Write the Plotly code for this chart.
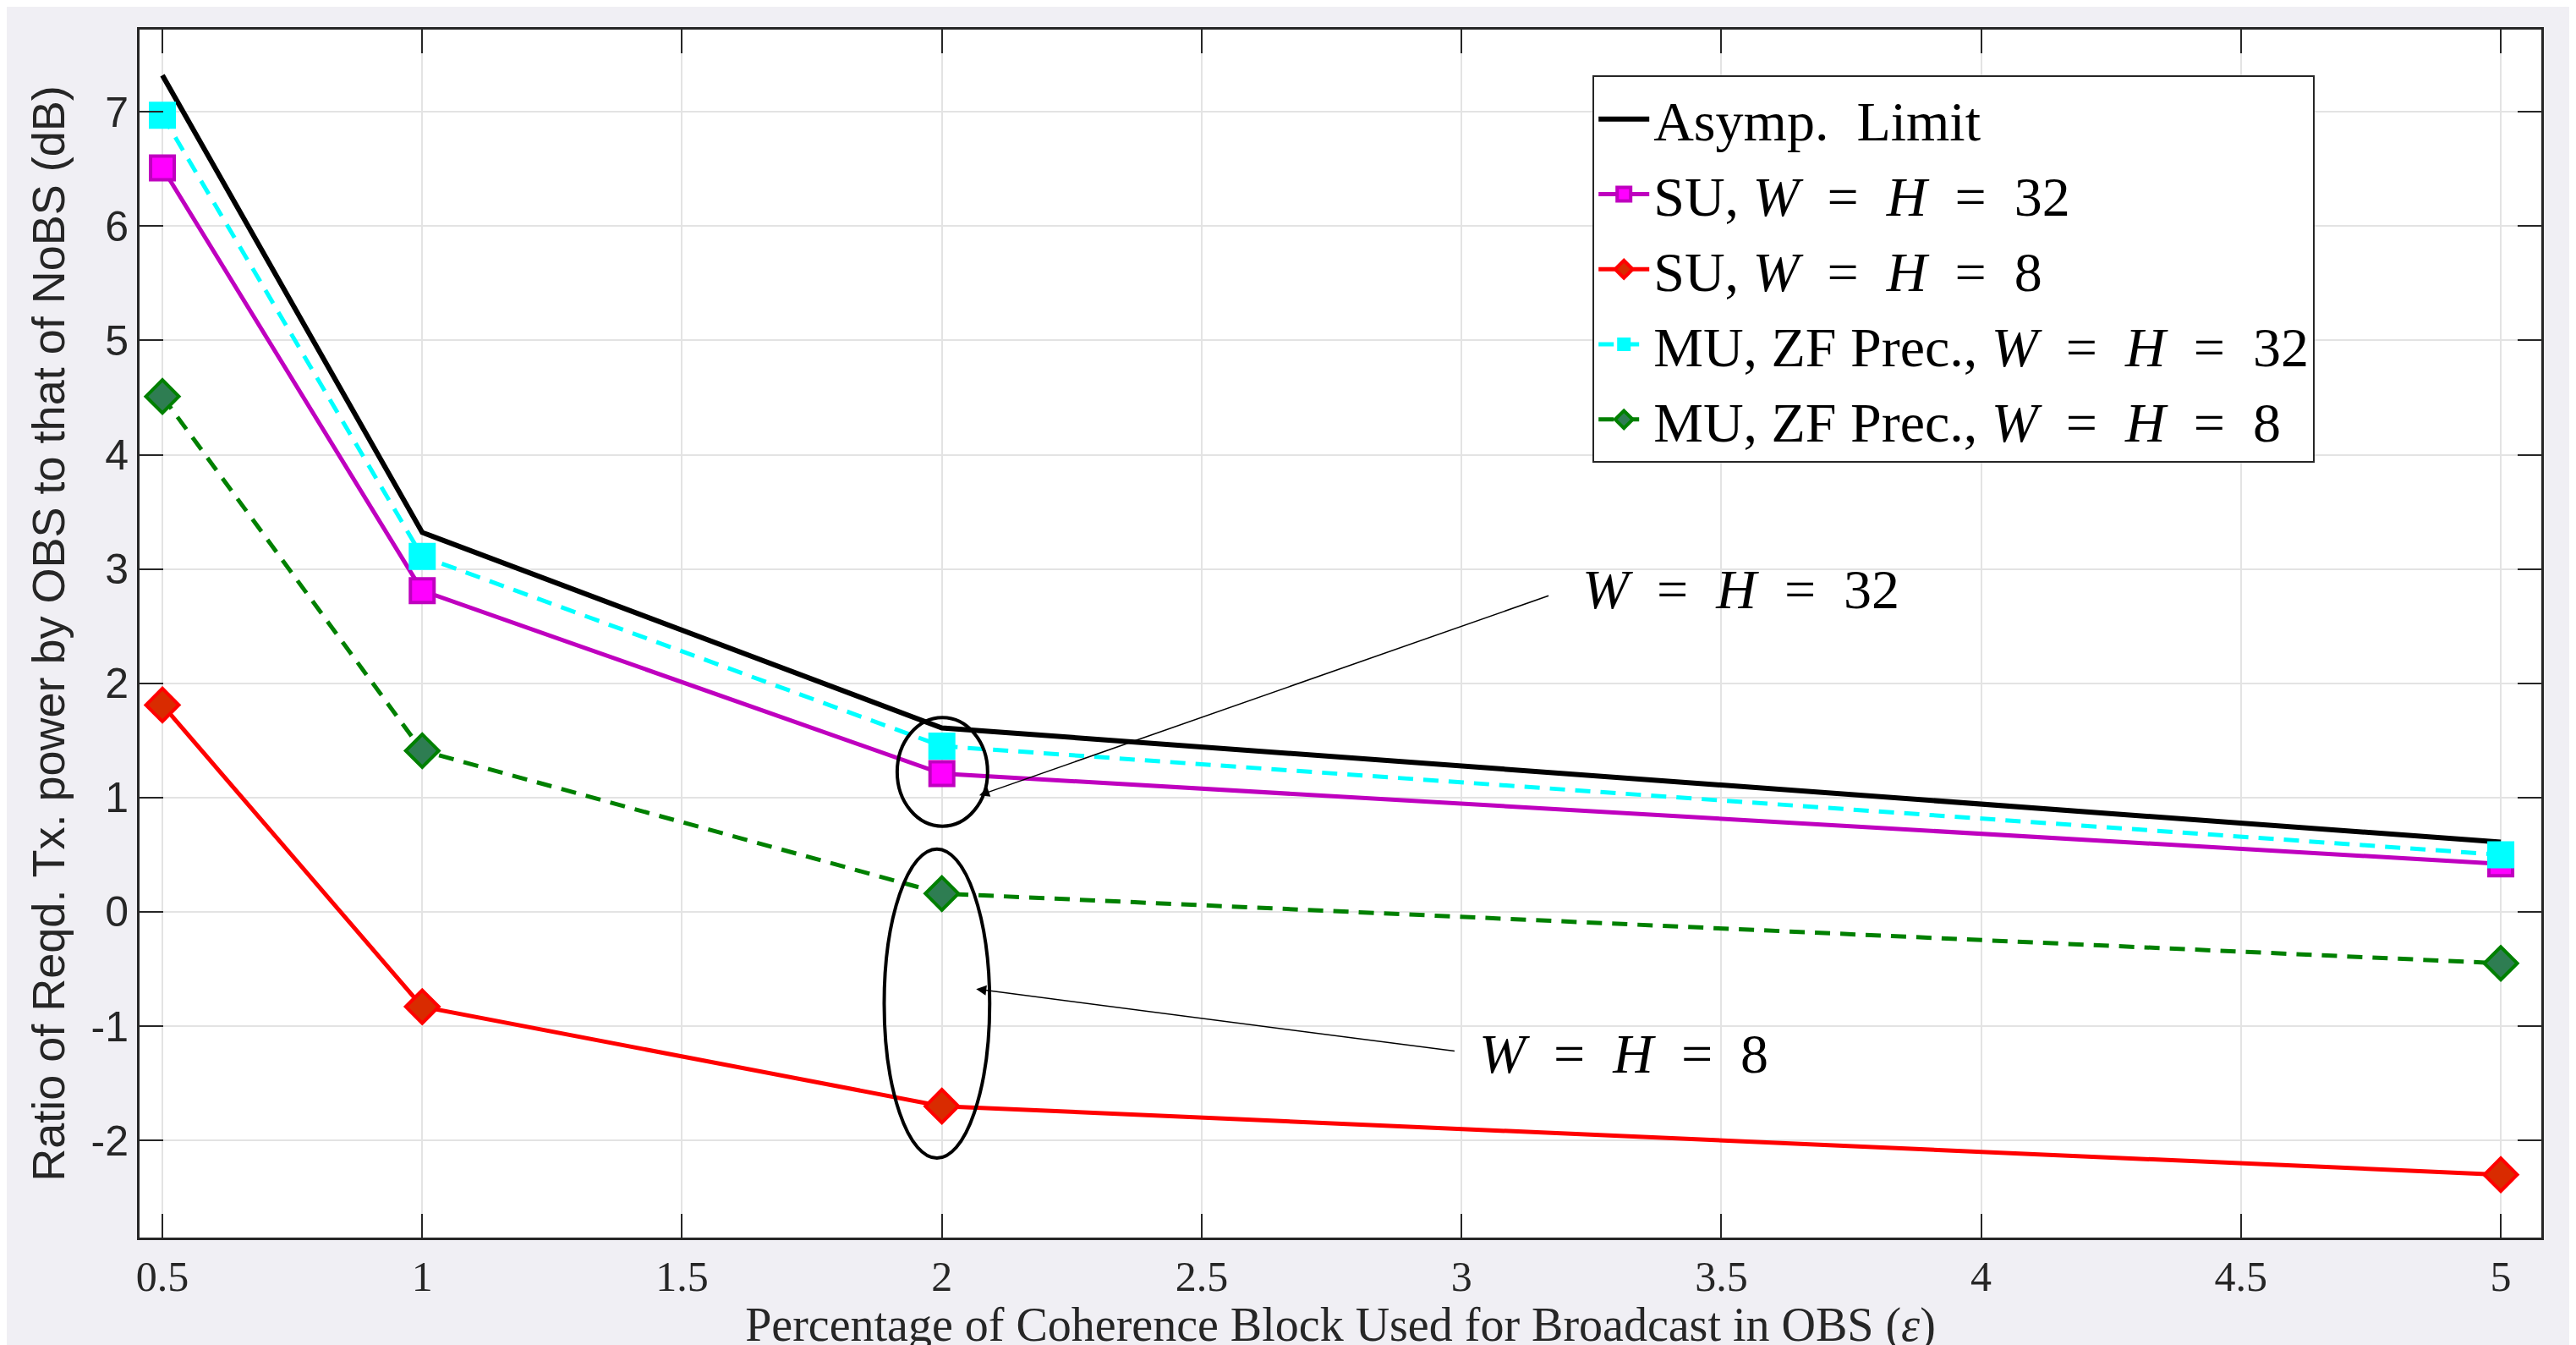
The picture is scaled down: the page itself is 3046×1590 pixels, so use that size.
import plotly.graph_objects as go

# ---------------- data ----------------
eps = [0.5, 1, 2, 5]
asymp_limit = [7.32, 3.32, 1.61, 0.61]
su_32 = [6.51, 2.81, 1.21, 0.42]
su_8 = [1.81, -0.83, -1.70, -2.30]
mu_32 = [6.97, 3.11, 1.45, 0.50]
mu_8 = [4.51, 1.41, 0.16, -0.45]

x_ticks = [0.5, 1, 1.5, 2, 2.5, 3, 3.5, 4, 4.5, 5]
y_ticks = [-2, -1, 0, 1, 2, 3, 4, 5, 6, 7]
y_ticktext = ["-2", "-1", "0", "1", "2", "3", "4", "5", "6", "7"]

# annotation geometry (data coordinates)
ell32 = dict(x0=1.914, x1=2.088, y0=0.75, y1=1.70)
ell8 = dict(x0=1.889, x1=2.092, y0=-2.155, y1=0.55)
arr32 = dict(tail=(3.17, 2.77), head=(2.072, 1.02), text=(3.23, 2.82))
arr8 = dict(tail=(2.989, -1.22), head=(2.066, -0.675), text=(3.03, -1.24))

SERIF = "Liberation Serif"
SANS = "Liberation Sans"

fig = go.Figure()

fig.add_trace(go.Scatter(
    x=eps, y=asymp_limit, mode="lines", name="Asymp.  Limit",
    line=dict(color="black", width=6)))

fig.add_trace(go.Scatter(
    x=eps, y=su_32, mode="lines+markers", name="SU, <i>W</i>  =  <i>H</i>  =  32",
    line=dict(color="#BF00BF", width=5),
    marker=dict(symbol="square", size=28, color="#FF00FF",
                line=dict(color="#BF00BF", width=4))))

fig.add_trace(go.Scatter(
    x=eps, y=su_8, mode="lines+markers", name="SU, <i>W</i>  =  <i>H</i>  =  8",
    line=dict(color="#FF0000", width=5),
    marker=dict(symbol="diamond", size=30, color="#D92B00",
                line=dict(color="#FF0000", width=4))))

fig.add_trace(go.Scatter(
    x=eps, y=mu_32, mode="lines+markers",
    name="MU, ZF Prec., <i>W</i>  =  <i>H</i>  =  32",
    line=dict(color="#00FFFF", width=5, dash="18px,12px"),
    marker=dict(symbol="square", size=32, color="#00FFFF",
                line=dict(color="#00FFFF", width=0))))

fig.add_trace(go.Scatter(
    x=eps, y=mu_8, mode="lines+markers",
    name="MU, ZF Prec., <i>W</i>  =  <i>H</i>  =  8",
    line=dict(color="#008000", width=5, dash="18px,12px"),
    marker=dict(symbol="diamond", size=30, color="#2E7D52",
                line=dict(color="#008000", width=4))))

# ellipses
for e in (ell32, ell8):
    fig.add_shape(type="circle", xref="x", yref="y",
                  x0=e["x0"], x1=e["x1"], y0=e["y0"], y1=e["y1"],
                  line=dict(color="black", width=4))

# arrows + labels
for a, label in ((arr32, "<i>W</i>  =  <i>H</i>  =  32"), (arr8, "<i>W</i>  =  <i>H</i>  =  8")):
    fig.add_annotation(x=a["head"][0], y=a["head"][1], ax=a["tail"][0], ay=a["tail"][1],
                       xref="x", yref="y", axref="x", ayref="y",
                       text="", showarrow=True, arrowhead=2, arrowsize=1.6,
                       arrowwidth=1.5, arrowcolor="black")
    fig.add_annotation(x=a["text"][0], y=a["text"][1], xref="x", yref="y",
                       text=label, showarrow=False, xanchor="left", yanchor="middle",
                       font=dict(family=SERIF, size=66, color="black"))

fig.update_layout(
    width=3046, height=1590,
    paper_bgcolor="#F0EFF4", plot_bgcolor="white",
    margin=dict(l=157, r=49, t=27, b=135),
    showlegend=True,
    legend=dict(x=0.605, y=0.962, xanchor="left", yanchor="top",
                bgcolor="white", bordercolor="#262626", borderwidth=2,
                font=dict(family=SERIF, size=66, color="black"),
                itemwidth=60, tracegroupgap=0),
)

fig.update_xaxes(
    range=[0.456, 5.078], tickvals=x_ticks, ticktext=[str(v) for v in x_ticks],
    ticks="inside", ticklen=28, tickwidth=2, tickcolor="#262626",
    showline=True, linecolor="#262626", linewidth=3, mirror="ticks",
    showgrid=True, gridcolor="#E3E3E3", gridwidth=2, zeroline=False,
    tickfont=dict(family=SERIF, size=50, color="#262626"),
    title=dict(text="Percentage of Coherence Block Used for Broadcast in OBS (<i>ε</i>)",
               font=dict(family=SERIF, size=56, color="#262626"), standoff=26),
    automargin=False,
)
fig.update_yaxes(
    range=[-2.85, 7.72], tickvals=y_ticks, ticktext=y_ticktext,
    ticks="inside", ticklen=28, tickwidth=2, tickcolor="#262626",
    showline=True, linecolor="#262626", linewidth=3, mirror="ticks",
    showgrid=True, gridcolor="#E3E3E3", gridwidth=2, zeroline=False,
    tickfont=dict(family=SANS, size=50, color="#262626"),
    title=dict(text="Ratio of Reqd. Tx. power by OBS to that of NoBS (dB)",
               font=dict(family=SANS, size=54, color="#262626"), standoff=14),
    automargin=False,
)

fig.write_html("out.html")
